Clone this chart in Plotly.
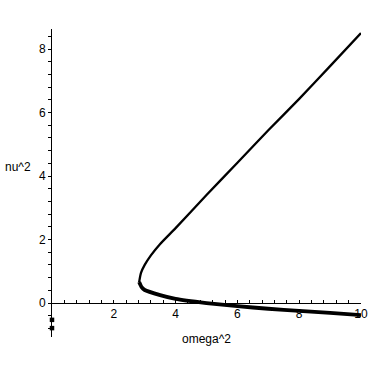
import plotly.graph_objects as go

# Upper branch (omega^2, nu^2)
upper_x = [2.82, 2.88, 3.0, 3.2, 3.5, 4.0, 5.0, 6.0, 7.0, 8.0, 9.0, 10.0]
upper_y = [0.66, 0.95, 1.20, 1.50, 1.86, 2.36, 3.40, 4.42, 5.44, 6.43, 7.46, 8.50]

# Lower branch
lower_x = [2.82, 2.9, 3.0, 3.5, 4.0, 5.0, 6.0, 7.0, 8.0, 9.0, 10.0]
lower_y = [0.66, 0.50, 0.41, 0.25, 0.13, 0.0, -0.10, -0.18, -0.25, -0.31, -0.38]

# Isolated points at omega^2 = 0
pt_x = [0.0, 0.0]
pt_y = [-0.53, -0.79]

x_ticks = [2, 4, 6, 8, 10]
y_ticks = [0, 2, 4, 6, 8]
x_range = [0, 10]
y_range = [-1.07, 8.63]

font = dict(family="Liberation Sans, Arial, sans-serif", size=12, color="black")

fig = go.Figure()
fig.add_trace(go.Scatter(x=upper_x, y=upper_y, mode="lines",
                         line=dict(color="black", width=2.3, shape="spline", smoothing=0.6),
                         showlegend=False, hoverinfo="skip"))
fig.add_trace(go.Scatter(x=lower_x, y=lower_y, mode="lines",
                         line=dict(color="black", width=3.8, shape="spline", smoothing=0.6),
                         showlegend=False, hoverinfo="skip"))
fig.add_trace(go.Scatter(x=pt_x, y=pt_y, mode="markers",
                         marker=dict(color="black", size=4.5, symbol="square"),
                         cliponaxis=False, showlegend=False, hoverinfo="skip"))

zero_pos = (0 - y_range[0]) / (y_range[1] - y_range[0])

fig.update_layout(
    width=372, height=372,
    margin=dict(l=52, r=11, t=29, b=35, autoexpand=False),
    paper_bgcolor="white", plot_bgcolor="white",
    font=font,
    xaxis=dict(range=x_range, tickvals=x_ticks, ticktext=[str(v) for v in x_ticks],
               showgrid=False, zeroline=False, showline=True, linecolor="black", linewidth=1,
               ticks="inside", ticklen=3, tickcolor="black", tickwidth=1,
               minor=dict(dtick=0.4, tick0=0, ticks="inside", ticklen=3, tickcolor="black"),
               anchor="free", position=zero_pos, tickfont=font, automargin=False),
    yaxis=dict(range=y_range, tickvals=y_ticks, ticktext=[str(v) for v in y_ticks],
               showgrid=False, zeroline=False, showline=True, linecolor="black", linewidth=1,
               ticks="outside", ticklen=3, tickcolor="black", tickwidth=1,
               minor=dict(dtick=0.4, tick0=0, ticks="outside", ticklen=3, tickcolor="black"),
               tickfont=font, automargin=False),
    annotations=[
        dict(text="omega^2", xref="paper", yref="paper", x=0.5, y=-0.007,
             xanchor="center", yanchor="middle", showarrow=False, font=font),
        dict(text="nu^2", xref="paper", yref="paper", x=-0.159, y=0.552,
             xanchor="left", yanchor="middle", showarrow=False, font=font),
    ],
)

fig.write_html("out.html",
               config={"displayModeBar": False, "staticPlot": True},
               post_script="document.body.style.margin='0';document.body.style.overflow='hidden';")
